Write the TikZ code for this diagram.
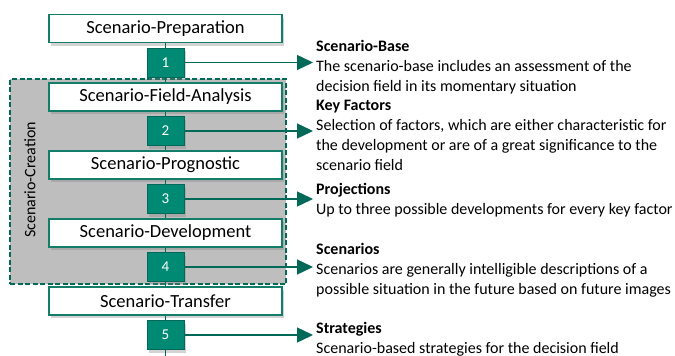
\documentclass[tikz,border=0pt]{standalone}
\usepackage{fontspec}
\setmainfont{Carlito}
\usetikzlibrary{arrows.meta,shadows,positioning}
\definecolor{teal1}{RGB}{0,138,116}
\definecolor{teal2}{RGB}{0,105,88}
\definecolor{boxline}{RGB}{20,125,105}
\definecolor{grayfill}{RGB}{190,190,190}
\tikzset{
  phase/.style={draw=boxline, line width=1.1pt, fill=white, minimum width=233pt, minimum height=28pt, inner sep=0pt, font=\fontsize{18.5}{20}\selectfont, drop shadow={shadow xshift=2pt, shadow yshift=-3pt, opacity=0.35}},
  numsq/.style={draw=teal2, line width=1pt, fill=teal1, text=white, minimum width=37pt, minimum height=29pt, inner sep=0pt, font=\fontsize{15}{16}\selectfont, drop shadow={shadow xshift=2pt, shadow yshift=-3pt, opacity=0.35}},
  flowline/.style={draw=teal2, line width=0.9pt},
  outarrow/.style={draw=teal2, line width=1.4pt, -{Triangle[length=16pt,width=15pt]}},
  desc/.style={anchor=north west, align=left, inner sep=0pt, font=\fontsize{16}{20}\selectfont},
}
\begin{document}
\begin{tikzpicture}[x=1pt,y=-1pt]
\useasboundingbox (0,0) rectangle (675,356);
% region
\node[draw=teal2, dashed, dash pattern=on 5pt off 2.5pt, line width=2pt, fill=grayfill, minimum width=276pt, minimum height=205pt, inner sep=0pt] (region) at (148,181.5) {};
\node[rotate=90, font=\fontsize{16}{18}\selectfont] (rlabel) at (30,180) {Scenario-Creation};
% phases
\node[phase] (p1) at (165.5,28.5) {Scenario-Preparation};
\node[phase] (p2) at (165.5,97) {Scenario-Field-Analysis};
\node[phase] (p3) at (165.5,165) {Scenario-Prognostic};
\node[phase] (p4) at (165.5,233) {Scenario-Development};
\node[phase] (p5) at (165.5,301) {Scenario-Transfer};
\node[numsq] (s1) at (165.5,62.5) {1};
\node[numsq] (s2) at (165.5,131) {2};
\node[numsq] (s3) at (165.5,199) {3};
\node[numsq] (s4) at (165.5,267) {4};
\node[numsq] (s5) at (165.5,335) {5};
\coordinate (bot) at (165.5,356);
\draw[flowline] (p1) -- (s1);
\draw[flowline] (s1) -- (p2);
\draw[flowline] (p2) -- (s2);
\draw[flowline] (s2) -- (p3);
\draw[flowline] (p3) -- (s3);
\draw[flowline] (s3) -- (p4);
\draw[flowline] (p4) -- (s4);
\draw[flowline] (s4) -- (p5);
\draw[flowline] (p5) -- (s5);
\draw[flowline] (s5) -- (bot);
% descriptions
\node[desc] (d1) at (316,40) {\textbf{Scenario-Base}\\The scenario-base includes an assessment of the\\decision field in its momentary situation};
\node[desc] (d2) at (316,100) {\textbf{Key Factors}\\Selection of factors, which are either characteristic for\\the development or are of a great significance to the\\scenario field};
\node[desc] (d3) at (316,183) {\textbf{Projections}\\Up to three possible developments for every key factor};
\node[desc] (d4) at (316,243) {\textbf{Scenarios}\\Scenarios are generally intelligible descriptions of a\\possible situation in the future based on future images};
\node[desc] (d5) at (316,322) {\textbf{Strategies}\\Scenario-based strategies for the decision field};
\coordinate (t1) at (313,62.5);
\coordinate (t2) at (313,131);
\coordinate (t3) at (313,199);
\coordinate (t4) at (313,267);
\coordinate (t5) at (313,335);
\draw[outarrow] (s1) -- (t1);
\draw[outarrow] (s2) -- (t2);
\draw[outarrow] (s3) -- (t3);
\draw[outarrow] (s4) -- (t4);
\draw[outarrow] (s5) -- (t5);
\end{tikzpicture}
\end{document}
